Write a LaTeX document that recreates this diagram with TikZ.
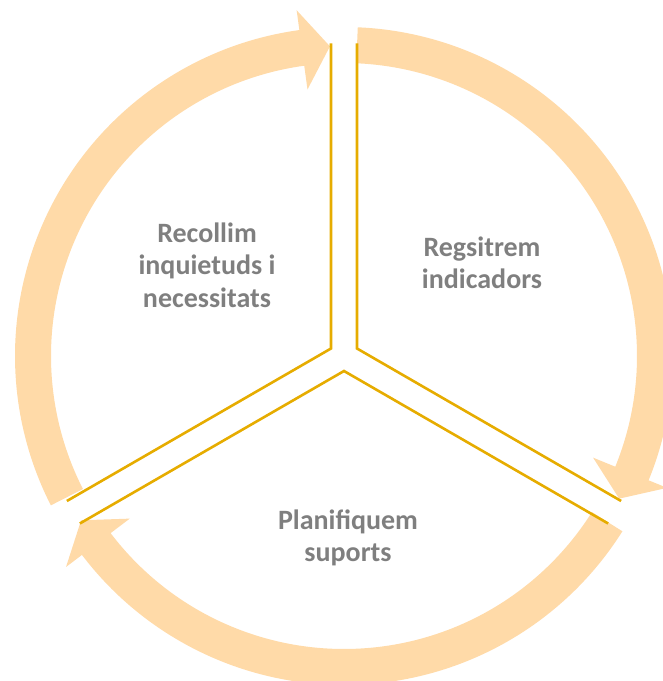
\documentclass[tikz,border=0pt]{standalone}
\usepackage{fontspec}
\setmainfont{Carlito}
\usetikzlibrary{calc}
\definecolor{ringfill}{RGB}{255,218,168}
\definecolor{goldline}{RGB}{230,172,0}
\definecolor{labelgray}{RGB}{127,127,127}
\tikzset{
  ringarrow/.style={fill=ringfill},
  divider/.style={draw=goldline,line width=2.6pt,line join=miter},
  steplabel/.style={text=labelgray,font=\fontsize{28}{32.5}\selectfont\bfseries,align=center}
}
\newcommand{\cycarrow}[2]{%
  \pgfmathsetmacro\hb{#2+5.2}%
  \fill[ringarrow] (#1:329) arc[start angle=#1,end angle=\hb,radius=329]
    -- (\hb:349) -- (#2:310) -- (\hb:269) -- (\hb:293)
    arc[start angle=\hb,end angle=#1,radius=293] -- cycle;}
\begin{document}
\begin{tikzpicture}[x=1pt,y=1pt]
\useasboundingbox (0,0) rectangle (663,681);
\coordinate (C) at (344,325);
\begin{scope}[shift={(C)}]
  \cycarrow{207}{92.6}
  \cycarrow{87.6}{-27.4}
  \cycarrow{-32.2}{-148}
  % sector corners
  \coordinate (cl) at (150:15);
  \coordinate (cr) at (30:15);
  \coordinate (cb) at (-90:15);
  \coordinate (cl1) at ($(cl)+(90:305)$);
  \coordinate (cl2) at ($(cl)+(210:305)$);
  \coordinate (cr1) at ($(cr)+(90:305)$);
  \coordinate (cr2) at ($(cr)+(-30:305)$);
  \coordinate (cb1) at ($(cb)+(210:305)$);
  \coordinate (cb2) at ($(cb)+(-30:305)$);
\end{scope}
\draw[divider] (cl1) -- (cl) -- (cl2);
\draw[divider] (cr1) -- (cr) -- (cr2);
\draw[divider] (cb1) -- (cb) -- (cb2);
\node[steplabel] (recollim) at (207,416) {Recollim\\inquietuds i\\necessitats};
\node[steplabel] (regsitrem) at (482,418) {Regsitrem\\indicadors};
\node[steplabel] (planifiquem) at (348,143) {Planifiquem\\suports};
\end{tikzpicture}
\end{document}
